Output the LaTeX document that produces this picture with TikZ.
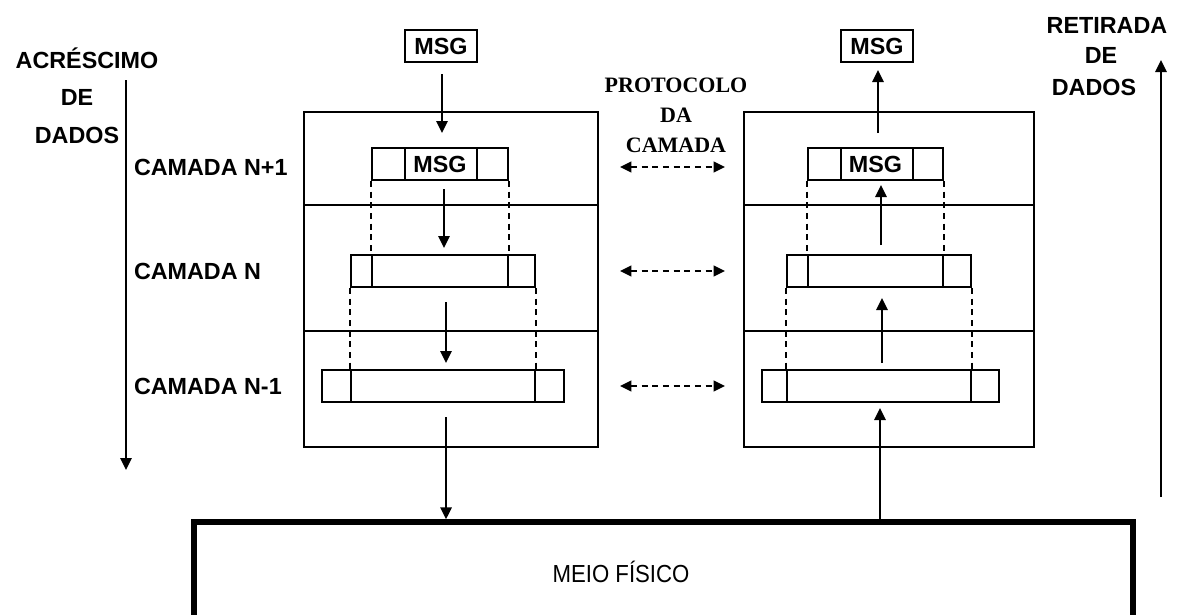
\documentclass[tikz,border=0pt]{standalone}
\usepackage{fontspec}
\setmainfont{Liberation Sans}
\newfontfamily\protofont{Liberation Serif}
\usetikzlibrary{arrows.meta,fit}

\begin{document}
\begin{tikzpicture}[x=0.75pt,y=-0.75pt,line width=1.5pt,
  lbl/.style={font=\bfseries\fontsize{17.5}{20}\selectfont, inner sep=0},
  proto/.style={font=\protofont\bfseries\fontsize{16.5}{20}\selectfont, inner sep=0, anchor=base},
  frame/.style={draw, line width=1.5pt, inner sep=0},
  msgbox/.style={frame, minimum height=24pt, font=\bfseries\fontsize{17.5}{20}\selectfont},
  arr/.style={-{Triangle[length=9pt,width=8.5pt]}, line width=1.5pt},
  dasharr/.style={{Triangle[length=8.5pt,width=8pt]}-{Triangle[length=8.5pt,width=8pt]}, dash pattern=on 4.5pt off 3.5pt, line width=1.5pt},
  guide/.style={dash pattern=on 4.5pt off 3.5pt, line width=1.5pt}]
\useasboundingbox (0,0) rectangle (1177,614);

% side captions
\node[lbl, anchor=base] (acr) at (87,68) {ACRÉSCIMO};
\node[lbl, anchor=base] (acrde) at (77,105) {DE};
\node[lbl, anchor=base] (acrdados) at (77,143) {DADOS};
\coordinate (downA) at (126,80);
\coordinate (downB) at (126,470);
\draw[arr] (downA) -- (downB);

\node[lbl, anchor=base] (ret) at (1107,33) {RETIRADA};
\node[lbl, anchor=base] (retde) at (1101,63) {DE};
\node[lbl, anchor=base] (retdados) at (1094,95) {DADOS};
\coordinate (upA) at (1161,497);
\coordinate (upB) at (1161,60);
\draw[arr] (upA) -- (upB);

% layer names
\node[lbl, anchor=base west] (camN1) at (133,175) {CAMADA N+1};
\node[lbl, anchor=base west] (camN) at (133,279) {CAMADA N};
\node[lbl, anchor=base west] (camNm1) at (133,394) {CAMADA N-1};

% protocol caption
\node[proto] (p1) at (676,92) {PROTOCOLO};
\node[proto] (p2) at (676,122) {DA};
\node[proto] (p3) at (676,152) {CAMADA};

% left (sending) stack
\node[frame, fit={(304,112) (598,447)}] (Ls) {};
\draw (Ls.west |- 0,205) -- (Ls.east |- 0,205);
\draw (Ls.west |- 0,331) -- (Ls.east |- 0,331);
\node[msgbox, minimum width=54pt] (Lmsg) at (441,46) {MSG};
\node[msgbox, minimum width=102pt] (Lf1) at (440,164) {MSG};
\draw (405,148) -- (405,180) (477,148) -- (477,180);
\node[frame, fit={(351,255) (535,287)}] (Lf2) {};
\draw (372,255) -- (372,287) (508,255) -- (508,287);
\node[frame, fit={(322,370) (564,402)}] (Lf3) {};
\draw (351,370) -- (351,402) (535,370) -- (535,402);
\draw[guide] (Lf1.south west) -- (Lf1.south west |- Lf2.north);
\draw[guide] (Lf1.south east) -- (Lf1.south east |- Lf2.north);
\draw[guide] (Lf2.south west) -- (Lf2.south west |- Lf3.north);
\draw[guide] (Lf2.south east) -- (Lf2.south east |- Lf3.north);
\draw[arr] (442,74) -- (442,133);
\draw[arr] (444,189) -- (444,248);
\draw[arr] (446,302) -- (446,363);

% right (receiving) stack
\node[frame, fit={(744,112) (1034,447)}] (Rs) {};
\draw (Rs.west |- 0,205) -- (Rs.east |- 0,205);
\draw (Rs.west |- 0,331) -- (Rs.east |- 0,331);
\node[msgbox, minimum width=54pt] (Rmsg) at (877,46) {MSG};
\node[msgbox, minimum width=101.25pt] (Rf1) at (875.5,164) {MSG};
\draw (841,148) -- (841,180) (913,148) -- (913,180);
\node[frame, fit={(787,255) (971,287)}] (Rf2) {};
\draw (808,255) -- (808,287) (943,255) -- (943,287);
\node[frame, fit={(762,370) (999,402)}] (Rf3) {};
\draw (787,370) -- (787,402) (971,370) -- (971,402);
\draw[guide] (Rf1.south west) -- (Rf1.south west |- Rf2.north);
\draw[guide] (Rf1.south east) -- (Rf1.south east |- Rf2.north);
\draw[guide] (Rf2.south west) -- (Rf2.south west |- Rf3.north);
\draw[guide] (Rf2.south east) -- (Rf2.south east |- Rf3.north);
\draw[arr] (878,133) -- (878,70);
\draw[arr] (881,245) -- (881,185);
\draw[arr] (882,363) -- (882,298);

% peer protocol arrows
\draw[dasharr] (620,167) -- (725,167);
\draw[dasharr] (620,271) -- (725,271);
\draw[dasharr] (620,386) -- (725,386);

% physical medium
\node[draw, line width=4pt, inner sep=0, fit={(194,522) (1133,660)}] (phys) {};
\node[font=\fontsize{18.5}{20}\selectfont, inner sep=0, anchor=base, xscale=0.9] (physlbl) at (621,582) {MEIO FÍSICO};
\coordinate (sendOut) at (446,417);
\coordinate (recvIn) at (880,408);
\draw[arr] (sendOut) -- (sendOut |- phys.north);
\draw[arr] (recvIn |- phys.north) -- (recvIn);
\end{tikzpicture}
\end{document}
